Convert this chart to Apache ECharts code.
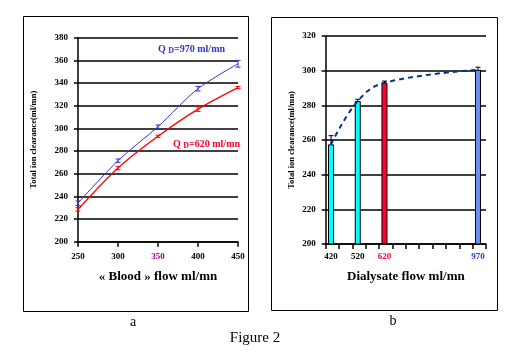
<!DOCTYPE html>
<html><head><meta charset="utf-8">
<script src="https://cdn.jsdelivr.net/npm/echarts@6/dist/echarts.min.js"></script>
<style>html,body{margin:0;padding:0;background:#fff}#c{width:519px;height:359px}</style>
</head><body><div id="c"></div>
<script>
// Panel a
var bloodFlow = [250, 300, 350, 400, 450];
var clr970 = [234, 271.5, 301.5, 335, 357];
var err970 = [2, 1.5, 1.5, 2, 3];
var clr620 = [228.5, 265, 293, 317, 336];
var err620 = [1.5, 1.5, 1, 2, 1];
var xTicksA = [250, 300, 350, 400, 450];
// Panel b
var dialFlow = [420, 520, 620, 970];
var clrB = [257.5, 282.5, 293, 300.5];
var errB = [5, 1, 1, 1.5];
var barColors = ['#00FFFF', '#00FFFF', '#FF0033', '#6A8FF0'];
var labelColorsB = ['#000000', '#000000', '#FF0033', '#3333CC'];

var F = 'Liberation Serif';
function pairs(xs, ys) { return xs.map(function (x, i) { return [x, ys[i]]; }); }
function errData(xs, ys, es) { return xs.map(function (x, i) { return [x, ys[i], es[i]]; }); }
function errRender(color, both, cap) {
  return function (params, api) {
    var x = api.value(0), y = api.value(1), e = api.value(2);
    var top = api.coord([x, y + e]);
    var bot = api.coord([x, both ? y - e : y]);
    var ch = [];
    ch.push({ type: 'line', shape: { x1: top[0], y1: top[1], x2: bot[0], y2: bot[1] }, style: { stroke: color, lineWidth: 1 } });
    ch.push({ type: 'line', shape: { x1: top[0] - cap, y1: top[1], x2: top[0] + cap, y2: top[1] }, style: { stroke: color, lineWidth: 1 } });
    if (both) ch.push({ type: 'line', shape: { x1: bot[0] - cap, y1: bot[1], x2: bot[0] + cap, y2: bot[1] }, style: { stroke: color, lineWidth: 1 } });
    return { type: 'group', children: ch };
  };
}
var richB = {};
dialFlow.forEach(function (v, i) { richB['c' + i] = { color: labelColorsB[i], fontFamily: F, fontSize: 9, fontWeight: 'bold' }; });

var chart = echarts.init(document.getElementById('c'), null, { renderer: 'canvas' });
chart.setOption({
  animation: false,
  backgroundColor: '#fff',
  grid: [
    { left: 78, top: 37.7, width: 160, height: 204 },
    { left: 325.7, top: 36, width: 160.3, height: 208 }
  ],
  xAxis: [
    { type: 'value', gridIndex: 0, min: 250, max: 450, interval: 50,
      axisLine: { lineStyle: { color: '#000', width: 1.5 } },
      axisTick: { length: 5, lineStyle: { color: '#000', width: 1.5 } },
      splitLine: { show: false },
      axisLabel: { margin: 10, fontFamily: F, fontSize: 9, fontWeight: 'bold',
        formatter: function (v) { return v === 350 ? '{p|' + v + '}' : '{k|' + v + '}'; },
        rich: { p: { color: '#990099', fontFamily: F, fontSize: 9, fontWeight: 'bold' }, k: { color: '#000', fontFamily: F, fontSize: 9, fontWeight: 'bold' } } },
      name: '« Blood » flow ml/mn', nameLocation: 'middle', nameGap: 28,
      nameTextStyle: { fontFamily: F, fontSize: 13, fontWeight: 'bold', color: '#000' } },
    { type: 'value', gridIndex: 1, min: 400, max: 1000, interval: 50,
      axisLine: { lineStyle: { color: '#000', width: 1.5 } },
      axisTick: { length: 5, lineStyle: { color: '#000', width: 1.5 } },
      splitLine: { show: false },
      axisLabel: { margin: 8, customValues: dialFlow,
        formatter: function (v) { var i = dialFlow.indexOf(v); return '{c' + i + '|' + v + '}'; },
        rich: richB },
      name: 'Dialysate flow ml/mn', nameLocation: 'middle', nameGap: 26,
      nameTextStyle: { fontFamily: F, fontSize: 13, fontWeight: 'bold', color: '#000' } }
  ],
  yAxis: [
    { type: 'value', gridIndex: 0, min: 200, max: 380, interval: 20,
      axisLine: { show: true, lineStyle: { color: '#000', width: 1.5 } },
      axisTick: { show: true, length: 4, lineStyle: { color: '#000', width: 1.5 } },
      splitLine: { show: true, lineStyle: { color: '#000', width: 1.5 } },
      axisLabel: { margin: 10, color: '#000', fontFamily: F, fontSize: 9, fontWeight: 'bold' },
      name: 'Total ion clearance(ml/mn)', nameLocation: 'middle', nameGap: 40,
      nameTextStyle: { fontFamily: F, fontSize: 8.5, fontWeight: 'bold', color: '#000' } },
    { type: 'value', gridIndex: 1, min: 200, max: 320, interval: 20,
      axisLine: { show: true, lineStyle: { color: '#000', width: 1.5 } },
      axisTick: { show: true, length: 4, lineStyle: { color: '#000', width: 1.5 } },
      splitLine: { show: true, lineStyle: { color: '#000', width: 1.5 } },
      axisLabel: { margin: 10, color: '#000', fontFamily: F, fontSize: 9, fontWeight: 'bold' },
      name: 'Total ion clearance(ml/mn)', nameLocation: 'middle', nameGap: 29,
      nameTextStyle: { fontFamily: F, fontSize: 8.5, fontWeight: 'bold', color: '#000' } }
  ],
  series: [
    { type: 'line', xAxisIndex: 0, yAxisIndex: 0, data: pairs(bloodFlow, clr970), smooth: 0.3,
      showSymbol: false, lineStyle: { color: '#3333CC', width: 1 }, z: 5 },
    { type: 'line', xAxisIndex: 0, yAxisIndex: 0, data: pairs(bloodFlow, clr620), smooth: 0.3,
      showSymbol: false, lineStyle: { color: '#FF0000', width: 1.3 }, z: 5 },
    { type: 'custom', xAxisIndex: 0, yAxisIndex: 0, data: errData(bloodFlow, clr970, err970),
      renderItem: errRender('#3333CC', true, 2.5), z: 6 },
    { type: 'custom', xAxisIndex: 0, yAxisIndex: 0, data: errData(bloodFlow, clr620, err620),
      renderItem: errRender('#FF0000', true, 2.5), z: 6 },
    { type: 'bar', xAxisIndex: 1, yAxisIndex: 1, barWidth: 6,
      data: dialFlow.map(function (x, i) { return { value: [x, clrB[i]], itemStyle: { color: barColors[i], borderColor: '#000', borderWidth: 1 } }; }),
      z: 3 },
    { type: 'custom', xAxisIndex: 1, yAxisIndex: 1, data: errData(dialFlow, clrB, errB),
      renderItem: errRender('#000', false, 2.5), z: 6 },
    { type: 'line', xAxisIndex: 1, yAxisIndex: 1, data: pairs(dialFlow, clrB), smooth: 0.4,
      showSymbol: false, lineStyle: { color: '#003399', width: 2, type: [5, 4] }, z: 5 }
  ],
  graphic: [
    { type: 'rect', shape: { x: 23.5, y: 16.5, width: 225, height: 295 }, style: { fill: null, stroke: '#000', lineWidth: 1 } },
    { type: 'rect', shape: { x: 271.5, y: 17.5, width: 226, height: 293 }, style: { fill: null, stroke: '#000', lineWidth: 1 } },
    { type: 'text', x: 158, y: 49, style: { text: '{q|Q }{d|D}{q|=970 ml/mn}', verticalAlign: 'middle',
      rich: { q: { fontFamily: F, fontSize: 10, fill: '#3333CC', fontWeight: 'bold' }, d: { fontFamily: F, fontSize: 8, fill: '#3333CC', fontWeight: 'bold', padding: [3, 0, 0, 0] } } } },
    { type: 'text', x: 173, y: 144, style: { text: '{q|Q }{d|D}{q|=620 ml/mn}', verticalAlign: 'middle',
      rich: { q: { fontFamily: F, fontSize: 10, fill: '#FF0033', fontWeight: 'bold' }, d: { fontFamily: F, fontSize: 8, fill: '#FF0033', fontWeight: 'bold', padding: [3, 0, 0, 0] } } } },
    { type: 'text', x: 133, y: 322, style: { text: 'a', font: '14px "Liberation Serif"', fill: '#000', align: 'center', verticalAlign: 'middle' } },
    { type: 'text', x: 393, y: 321, style: { text: 'b', font: '14px "Liberation Serif"', fill: '#000', align: 'center', verticalAlign: 'middle' } },
    { type: 'text', x: 255, y: 338, style: { text: 'Figure 2', font: '15px "Liberation Serif"', fill: '#000', align: 'center', verticalAlign: 'middle' } }
  ]
});
</script></body></html>
